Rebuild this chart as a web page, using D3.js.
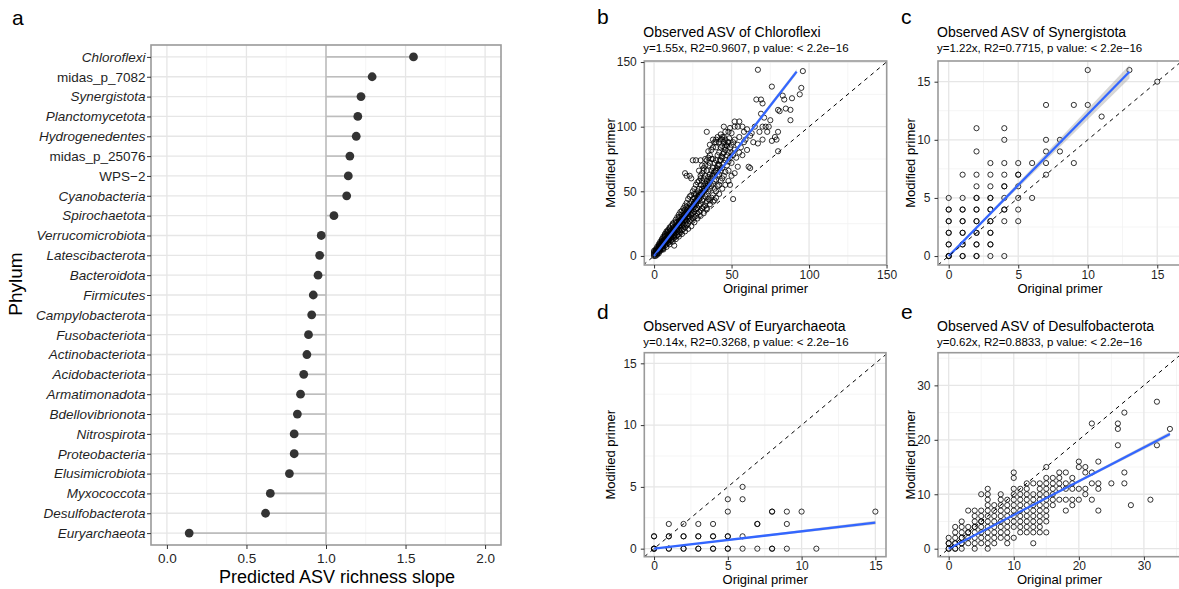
<!DOCTYPE html>
<html>
<head>
<meta charset="utf-8">
<script src="https://cdn.jsdelivr.net/npm/d3@7"></script>
<style>
  body { margin: 0; background: #fff; }
  svg { display: block; font-family: "Liberation Sans", Arial, Helvetica, sans-serif; }
</style>
</head>
<body>
<svg id="fig" width="1179" height="589"></svg>
<script>
// ---------- Panel a: predicted ASV richness slope per phylum ----------
const phyla = ["Chloroflexi", "midas_p_7082", "Synergistota", "Planctomycetota", "Hydrogenedentes",
  "midas_p_25076", "WPS\u22122", "Cyanobacteria", "Spirochaetota", "Verrucomicrobiota",
  "Latescibacterota", "Bacteroidota", "Firmicutes", "Campylobacterota", "Fusobacteriota",
  "Actinobacteriota", "Acidobacteriota", "Armatimonadota", "Bdellovibrionota", "Nitrospirota",
  "Proteobacteria", "Elusimicrobiota", "Myxococcota", "Desulfobacterota", "Euryarchaeota"];
const slopes = [1.55, 1.29, 1.22, 1.20, 1.19, 1.15, 1.14, 1.13, 1.05, 0.97,
  0.96, 0.95, 0.92, 0.91, 0.89, 0.88, 0.86, 0.84, 0.82, 0.80,
  0.80, 0.77, 0.65, 0.62, 0.14];
// placeholder (non-Latin-binomial) names are set upright
const uprightNames = ["midas_p_7082", "midas_p_25076", "WPS\u22122"];
const slopeTicks = [0, 0.5, 1, 1.5, 2];
const slopeMinor = [0.25, 0.75, 1.25, 1.75];

// ---------- Panels b-e: observed ASVs, original vs modified primer ----------
const scatterNames = ["Chloroflexi", "Synergistota", "Euryarchaeota", "Desulfobacterota"];
const fitSlopes = [1.55, 1.22, 0.14, 0.62];
const fitR2 = [0.9607, 0.7715, 0.3268, 0.8833];
const fitMaxX = [92, 13, 15, 34];        // extent of each fitted line (original primer)
const fitSlopeCI = [0.02, 0.045, 0.01, 0.012]; // half-width of the slope confidence band

const ticksB = [0, 50, 100, 150], minorB = [25, 75, 125];
const ticksC = [0, 5, 10, 15], minorC = [2.5, 7.5, 12.5];
const ticksD = [0, 5, 10, 15], minorD = [2.5, 7.5, 12.5];
const ticksE = [0, 10, 20, 30], minorE = [5, 15, 25, 35];

// [original primer, modified primer]
const chloroflexiASV = [
  [0,0],[0,1],[0,2],[0,3],[0,4],[1,0],[1,1],[1,2],[1,3],[1,4],[1,5],[2,1],[2,2],[2,3],[2,4],[2,5],[2,6],[2,7],
  [3,2],[3,3],[3,4],[3,5],[3,6],[3,7],[3,8],[3,9],[4,4],[4,5],[4,6],[4,7],[4,8],[4,9],[4,10],[4,11],
  [5,5],[5,6],[5,7],[5,8],[5,9],[5,10],[5,11],[5,12],[5,13],
  [6,5],[6,6],[6,8],[6,9],[6,10],[6,11],[6,12],[6,14],[6,15],[7,8],[7,10],[7,11],[7,12],[7,13],[7,15],[7,16],[7,17],
  [8,7],[8,9],[8,11],[8,12],[8,13],[8,14],[8,16],[8,18],[8,19],[9,10],[9,12],[9,13],[9,14],[9,15],[9,17],[9,19],[9,20],
  [10,9],[10,11],[10,13],[10,14],[10,15],[10,16],[10,17],[10,19],[10,21],[10,22],
  [11,12],[11,14],[11,16],[11,17],[11,18],[11,20],[11,23],[12,11],[12,13],[12,15],[12,17],[12,18],[12,19],[12,21],[12,24],[12,25],
  [13,8],[13,14],[13,16],[13,18],[13,20],[13,22],[13,26],[14,13],[14,15],[14,18],[14,20],[14,21],[14,23],[14,26],[14,28],
  [15,16],[15,19],[15,21],[15,22],[15,24],[15,26],[15,30],[16,15],[16,17],[16,20],[16,23],[16,25],[16,27],[16,30],[16,32],
  [17,18],[17,22],[17,24],[17,26],[17,28],[17,30],[17,34],[18,17],[18,20],[18,23],[18,25],[18,27],[18,29],[18,32],[18,35],
  [19,21],[19,24],[19,27],[19,29],[19,31],[19,34],[19,37],[20,19],[20,22],[20,25],[20,28],[20,30],[20,33],[20,36],[20,39],[20,64],
  [21,24],[21,27],[21,30],[21,32],[21,35],[21,38],[21,41],[21,62],[22,21],[22,25],[22,29],[22,31],[22,34],[22,37],[22,44],
  [23,27],[23,30],[23,33],[23,36],[23,40],[23,46],[23,62],[24,23],[24,28],[24,32],[24,35],[24,38],[24,42],[24,47],[24,60],
  [25,29],[25,33],[25,36],[25,39],[25,44],[25,50],[25,74],[26,26],[26,30],[26,34],[26,38],[26,41],[26,45],[26,48],[26,52],
  [27,31],[27,36],[27,40],[27,43],[27,48],[27,55],[27,74],[28,29],[28,33],[28,37],[28,42],[28,46],[28,50],[28,57],
  [29,34],[29,39],[29,44],[29,47],[29,52],[29,58],[29,66],[30,31],[30,35],[30,40],[30,45],[30,49],[30,55],[30,60],[30,62],[30,74],
  [31,37],[31,43],[31,48],[31,52],[31,58],[31,64],[31,70],[32,33],[32,38],[32,44],[32,50],[32,54],[32,60],[32,66],[32,68],
  [33,39],[33,46],[33,51],[33,56],[33,62],[33,70],[33,75],[34,36],[34,37],[34,42],[34,48],[34,53],[34,58],[34,66],[34,74],[34,96],
  [35,44],[35,50],[35,55],[35,61],[35,70],[35,76],[35,81],[36,40],[36,43],[36,52],[36,57],[36,63],[36,72],[36,78],[36,86],
  [37,45],[37,54],[37,60],[37,66],[37,75],[37,82],[38,42],[38,47],[38,56],[38,62],[38,68],[38,75],[38,84],[38,90],
  [39,43],[39,52],[39,58],[39,65],[39,72],[39,88],[40,45],[40,50],[40,59],[40,66],[40,74],[40,84],[40,88],[40,90],
  [41,54],[41,62],[41,70],[41,78],[41,92],[42,48],[42,55],[42,63],[42,70],[42,80],[42,88],
  [43,58],[43,66],[43,74],[43,84],[43,90],[43,94],[44,52],[44,60],[44,68],[44,76],[44,85],[44,90],[44,92],
  [45,62],[45,72],[45,80],[45,88],[45,92],[45,100],[46,55],[46,65],[46,74],[46,82],[46,90],[46,96],
  [47,70],[47,78],[47,85],[48,58],[48,66],[48,73],[48,80],[48,88],[48,96],[49,55],[49,76],[49,84],[49,99],
  [50,62],[50,72],[50,80],[50,86],[50,95],
  [51,44],[51,78],[51,88],[52,64],[52,82],[52,90],[52,100],[52,104],[53,76],[54,69],[54,86],[54,100],
  [55,80],[55,92],[55,104],[56,84],[57,78],[57,100],[58,88],[58,96],[59,90],[60,82],[60,98],
  [61,69],[62,68],[62,93],[63,95],[64,88],[65,100],[66,121],[67,144],[67,87],[68,96],
  [69,121],[69,110],[70,118],[70,100],[70,90],[71,107],[72,100],[73,96],[74,100],[75,105],
  [76,89],[76,131],[78,92],[79,90],[80,96],[80,81],[80,113],[81,112],[83,124],[84,121],
  [85,114],[88,113],[88,105],[89,122],[94,125],[95,130],[96,143],
  [3.5,5],[4.5,7],[5.5,9],[6.5,10],[7.5,12],[8.5,14],[9.5,15],[10.5,16],[11.5,18],[12.5,20],
  [13.5,21],[14.5,23],[15.5,24],[16.5,26],[17.5,27],[18.5,29],[19.5,30],[20.5,32],[21.5,33],[22.5,35],
  [23.5,37],[24.5,38],[25.5,40],[26.5,42],[27.5,43],[28.5,45],[29.5,47],[30.5,48],[31.5,50],[32.5,52],
  [33.5,54],[34.5,56],[35.5,58],[36.5,60],[37.5,62],[38.5,64],[39.5,66],[40.5,68],[41.5,71],[42.5,74],
  [43.5,77],[44.5,79],[45.5,84],[46.5,86],[47.5,88],[48.5,91]
];

const synergistotaASV = [
  [0,0],[0,0],[0,0],[0,1],[0,1],[0,2],[0,2],[0,3],[0,3],[0,4],[0,4],[0,5],
  [1,0],[1,0],[1,1],[1,1],[1,2],[1,2],[1,3],[1,3],[1,4],[1,4],[1,5],[1,7],
  [2,0],[2,0],[2,1],[2,1],[2,2],[2,2],[2,3],[2,3],[2,4],[2,4],[2,5],[2,5],[2,6],[2,7],[2,9],[2,11],
  [3,0],[3,1],[3,1],[3,2],[3,2],[3,3],[3,3],[3,4],[3,4],[3,5],[3,5],[3,6],[3,7],[3,8],
  [4,0],[4,3],[4,4],[4,4],[4,5],[4,6],[4,6],[4,7],[4,8],[4,10],[4,11],
  [5,3],[5,4],[5,5],[5,6],[5,7],[5,7],[5,8],
  [6,5],[6,8],[7,7],[7,8],[7,9],[7,10],[7,13],[8,9],[8,10],[9,8],[9,13],
  [10,13],[10,16],[11,12],[13,16],[15,15]
];

const euryarchaeotaASV = [
  [0,0],[0,0],[0,0],[0,1],[0,1],[1,0],[1,0],[1,1],[1,1],[1,2],
  [2,0],[2,0],[2,1],[2,1],[2,2],[3,0],[3,0],[3,1],[3,1],[3,2],
  [4,0],[4,0],[4,1],[4,1],[4,2],[5,0],[5,0],[5,1],[5,1],[5,3],[5,4],
  [6,0],[6,1],[6,4],[6,5],[7,0],[7,2],[7,2],[8,0],[8,0],[8,3],[8,3],
  [9,0],[9,2],[9,3],[10,3],[11,0],[15,3]
];

const desulfobacterotaASV = [
  [0,0],[0,0],[0,1],[0,1],[0,2],
  [1,0],[1,0],[1,1],[1,1],[1,2],[1,3],[1,4],
  [2,0],[2,1],[2,1],[2,2],[2,2],[2,3],[2,4],[2,5],
  [3,1],[3,2],[3,3],[3,3],[3,4],[3,7],
  [4,0],[4,1],[4,2],[4,3],[4,4],[4,4],[4,5],[4,6],[4,7],
  [5,1],[5,2],[5,3],[5,4],[5,5],[5,5],[5,6],[5,7],[5,10],
  [6,0],[6,1],[6,2],[6,3],[6,4],[6,5],[6,6],[6,7],[6,8],[6,9],[6,10],[6,11],
  [7,1],[7,2],[7,3],[7,4],[7,5],[7,6],[7,7],[7,8],
  [8,2],[8,3],[8,4],[8,5],[8,6],[8,7],[8,8],[8,9],[8,10],
  [9,1],[9,2],[9,3],[9,4],[9,5],[9,6],[9,7],[9,8],[9,9],
  [10,2],[10,4],[10,5],[10,6],[10,7],[10,8],[10,9],[10,10],[10,11],[10,13],[10,14],
  [11,3],[11,4],[11,5],[11,6],[11,7],[11,8],[11,9],[11,10],[11,11],
  [12,3],[12,4],[12,5],[12,6],[12,7],[12,8],[12,9],[12,10],[12,11],[12,12],
  [13,1],[13,3],[13,4],[13,5],[13,6],[13,7],[13,8],[13,9],[13,10],[13,12],
  [14,3],[14,4],[14,5],[14,6],[14,7],[14,8],[14,9],[14,10],[14,11],[14,12],
  [15,3],[15,5],[15,6],[15,7],[15,8],[15,9],[15,10],[15,11],[15,12],[15,13],[15,15],
  [16,8],[16,9],[16,10],[16,11],[16,12],[16,13],
  [17,9],[17,11],[17,12],[17,13],[17,14],[18,7],[18,9],[18,11],[18,12],[18,14],
  [19,8],[19,9],[19,11],[19,12],[19,13],[20,9],[20,11],[20,15],[20,16],
  [21,10],[21,11],[21,14],[21,15],[22,9],[22,12],[22,14],[22,23],
  [23,7],[23,11],[23,12],[23,16],[25,12],[26,19],[26,22],[26,23],
  [27,12],[27,14],[27,25],[28,8],[31,9],[32,19],[32,27],[34,22]
];

// ---------- drawing ----------
const svg = d3.select("#fig");
svg.append("rect").attr("width", 1179).attr("height", 589).attr("fill", "#fff");

const GRID_MAJOR = "#e6e6e6", GRID_MINOR = "#f2f2f2", BORDER = "#9a9a9a";
const TICK_COL = "#333", LABEL_COL = "#1f1f1f";

function styleAxis(g, size) {
  g.select(".domain").remove();
  g.selectAll(".tick line").attr("stroke", TICK_COL).attr("stroke-width", 1);
  g.selectAll(".tick text").attr("fill", LABEL_COL).attr("font-size", size)
    .attr("font-family", "'Liberation Sans', Arial, sans-serif");
}

// Panel a -----------------------------------------------------------
(function drawLollipop() {
  const L = 151, R = 501, T = 45, B = 545;
  const x = d3.scaleLinear().domain([-0.1, 2.1]).range([L, R]);
  const y = d3.scalePoint().domain(phyla).range([T, B]).padding(0.6);
  const g = svg.append("g");

  g.selectAll(".minor").data(slopeMinor).join("line")
    .attr("x1", d => x(d)).attr("x2", d => x(d)).attr("y1", T).attr("y2", B)
    .attr("stroke", GRID_MINOR).attr("stroke-width", 0.8);
  g.selectAll(".major").data(slopeTicks).join("line")
    .attr("x1", d => x(d)).attr("x2", d => x(d)).attr("y1", T).attr("y2", B)
    .attr("stroke", GRID_MAJOR).attr("stroke-width", 1.3);
  g.selectAll(".hgrid").data(phyla).join("line")
    .attr("x1", L).attr("x2", R).attr("y1", d => y(d)).attr("y2", d => y(d))
    .attr("stroke", GRID_MAJOR).attr("stroke-width", 1.3);

  // reference slope of 1
  g.append("line").attr("x1", x(1)).attr("x2", x(1)).attr("y1", T).attr("y2", B)
    .attr("stroke", "#b3b3b3").attr("stroke-width", 1.3);

  g.selectAll(".stick").data(phyla).join("line")
    .attr("x1", x(1)).attr("x2", (d, i) => x(slopes[i]))
    .attr("y1", d => y(d)).attr("y2", d => y(d))
    .attr("stroke", "#bdbdbd").attr("stroke-width", 1.6);
  g.selectAll(".dot").data(phyla).join("circle")
    .attr("cx", (d, i) => x(slopes[i])).attr("cy", d => y(d)).attr("r", 4.4)
    .attr("fill", "#333");

  g.append("rect").attr("x", L).attr("y", T).attr("width", R - L).attr("height", B - T)
    .attr("fill", "none").attr("stroke", BORDER).attr("stroke-width", 1.6);

  const xa = g.append("g").attr("transform", `translate(0,${B})`)
    .call(d3.axisBottom(x).tickValues(slopeTicks).tickFormat(d3.format(".1f")).tickSize(4).tickPadding(4));
  styleAxis(xa, 13.5);
  const ya = g.append("g").attr("transform", `translate(${L},0)`)
    .call(d3.axisLeft(y).tickSize(4).tickPadding(1.5));
  styleAxis(ya, 13.5);
  ya.selectAll(".tick text").attr("font-style", d => uprightNames.includes(d) ? "normal" : "italic");

  svg.append("text").attr("x", 337).attr("y", 582.5).attr("text-anchor", "middle")
    .attr("font-size", 18).attr("fill", "#000").text("Predicted ASV richness slope");
  svg.append("text").attr("transform", "translate(21.5,284) rotate(-90)").attr("text-anchor", "middle")
    .attr("font-size", 19).attr("fill", "#000").text("Phylum");
  svg.append("text").attr("x", 12).attr("y", 25).attr("font-size", 21).attr("fill", "#000").text("a");
})();

// Panels b-e --------------------------------------------------------
const panels = [
  { tag: "b", pts: chloroflexiASV, k: 0, ticks: ticksB, minor: minorB,
    left: 644.3, right: 886.7, top: 61, bottom: 265, xDom: [-6.3, 150.1], yDom: [-7, 150.8],
    tagX: 597, tagY: 24, titleY: 36.7, yTitleX: 615 },
  { tag: "c", pts: synergistotaASV, k: 1, ticks: ticksC, minor: minorC,
    left: 938, right: 1182, top: 61, bottom: 265, xDom: [-0.77, 16.78], yDom: [-0.77, 16.78],
    tagX: 901, tagY: 24, titleY: 36.7, yTitleX: 914.5 },
  { tag: "d", pts: euryarchaeotaASV, k: 2, ticks: ticksD, minor: minorD,
    left: 644.3, right: 886, top: 352.7, bottom: 556.7, xDom: [-0.66, 15.72], yDom: [-0.65, 15.86],
    tagX: 597, tagY: 318.5, titleY: 330.7, yTitleX: 615 },
  { tag: "e", pts: desulfobacterotaASV, k: 3, ticks: ticksE, minor: minorE,
    left: 938, right: 1181, top: 352.7, bottom: 556.7, xDom: [-1.64, 35.7], yDom: [-1.47, 36.0],
    tagX: 901, tagY: 318.5, titleY: 330.7, yTitleX: 914.5 }
];

panels.forEach(p => {
  const x = d3.scaleLinear().domain(p.xDom).range([p.left, p.right]);
  const y = d3.scaleLinear().domain(p.yDom).range([p.bottom, p.top]);
  const W = p.right - p.left, H = p.bottom - p.top;
  const slope = fitSlopes[p.k], ci = fitSlopeCI[p.k], xmax = fitMaxX[p.k];
  const g = svg.append("g");
  const clipId = "clip-" + p.tag;
  svg.append("clipPath").attr("id", clipId).append("rect")
    .attr("x", p.left).attr("y", p.top).attr("width", W).attr("height", H);
  const inner = g.append("g").attr("clip-path", `url(#${clipId})`);

  // grid
  p.minor.forEach(v => {
    inner.append("line").attr("x1", x(v)).attr("x2", x(v)).attr("y1", p.top).attr("y2", p.bottom)
      .attr("stroke", GRID_MINOR).attr("stroke-width", 0.8);
    inner.append("line").attr("y1", y(v)).attr("y2", y(v)).attr("x1", p.left).attr("x2", p.right)
      .attr("stroke", GRID_MINOR).attr("stroke-width", 0.8);
  });
  p.ticks.forEach(v => {
    inner.append("line").attr("x1", x(v)).attr("x2", x(v)).attr("y1", p.top).attr("y2", p.bottom)
      .attr("stroke", GRID_MAJOR).attr("stroke-width", 1.3);
    inner.append("line").attr("y1", y(v)).attr("y2", y(v)).attr("x1", p.left).attr("x2", p.right)
      .attr("stroke", GRID_MAJOR).attr("stroke-width", 1.3);
  });

  // observations
  inner.selectAll("circle").data(p.pts).join("circle")
    .attr("cx", d => x(d[0])).attr("cy", d => y(d[1])).attr("r", 2.6)
    .attr("fill", "none").attr("stroke", "#000").attr("stroke-width", 0.8);

  // confidence band of the fit through the origin
  const band = [[0, 0], [xmax, (slope + ci) * xmax], [xmax, (slope - ci) * xmax]];
  inner.append("path")
    .attr("d", d3.line().x(d => x(d[0])).y(d => y(d[1]))(band) + "Z")
    .attr("fill", "#999").attr("fill-opacity", 0.4);

  // fitted line
  inner.append("line").attr("x1", x(0)).attr("y1", y(0)).attr("x2", x(xmax)).attr("y2", y(slope * xmax))
    .attr("stroke", "#3366ff").attr("stroke-width", 2.3).attr("stroke-linecap", "butt");

  // 1:1 reference
  const lo = Math.min(p.xDom[0], p.yDom[0]), hi = Math.max(p.xDom[1], p.yDom[1]);
  inner.append("line").attr("x1", x(lo)).attr("y1", y(lo)).attr("x2", x(hi)).attr("y2", y(hi))
    .attr("stroke", "#000").attr("stroke-width", 1).attr("stroke-dasharray", "4,4");

  g.append("rect").attr("x", p.left).attr("y", p.top).attr("width", W).attr("height", H)
    .attr("fill", "none").attr("stroke", BORDER).attr("stroke-width", 1.6);

  const xa = g.append("g").attr("transform", `translate(0,${p.bottom})`)
    .call(d3.axisBottom(x).tickValues(p.ticks).tickFormat(d3.format("d")).tickSize(3.5).tickPadding(1.6));
  styleAxis(xa, 12);
  const ya = g.append("g").attr("transform", `translate(${p.left},0)`)
    .call(d3.axisLeft(y).tickValues(p.ticks).tickFormat(d3.format("d")).tickSize(3.5).tickPadding(4));
  styleAxis(ya, 12);

  svg.append("text").attr("x", (p.left + p.right) / 2).attr("y", p.bottom + 27.5)
    .attr("text-anchor", "middle").attr("font-size", 13).attr("fill", "#000").text("Original primer");
  svg.append("text").attr("transform", `translate(${p.yTitleX},${(p.top + p.bottom) / 2}) rotate(-90)`)
    .attr("text-anchor", "middle").attr("font-size", 13).attr("fill", "#000").text("Modified primer");

  svg.append("text").attr("x", p.left - 1).attr("y", p.titleY).attr("font-size", 14).attr("fill", "#000")
    .text("Observed ASV of " + scatterNames[p.k]);
  svg.append("text").attr("x", p.left - 1).attr("y", p.titleY + 15).attr("font-size", 11.5).attr("fill", "#000")
    .text(`y=${slope.toFixed(2)}x, R2=${fitR2[p.k].toFixed(4)}, p value: < 2.2e\u221216`);
  svg.append("text").attr("x", p.tagX).attr("y", p.tagY).attr("font-size", 21).attr("fill", "#000").text(p.tag);
});
</script>
</body>
</html>
